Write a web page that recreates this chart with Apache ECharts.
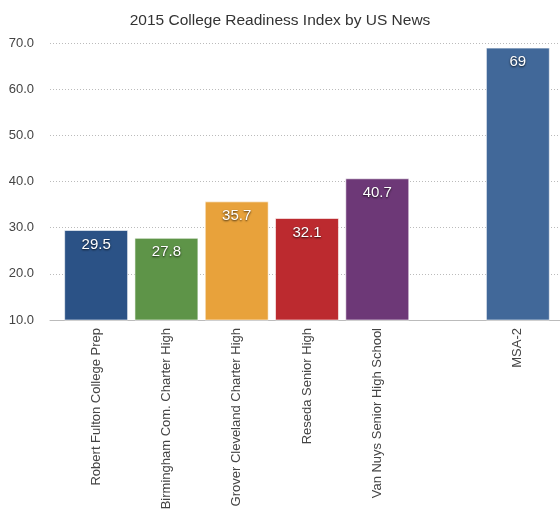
<!DOCTYPE html>
<html><head><meta charset="utf-8">
<script src="https://cdn.jsdelivr.net/npm/echarts@6/dist/echarts.min.js"></script>
<style>html,body{margin:0;padding:0;background:#fff}#c{width:560px;height:514px}</style>
</head><body><div id="c"></div>
<script>
var categories = ['Robert Fulton College Prep','Birmingham Com. Charter High','Grover Cleveland Charter High','Reseda Senior High','Van Nuys Senior High School','','MSA-2'];
var values = [29.5, 27.8, 35.7, 32.1, 40.7, null, 69];
var valueLabels = ['29.5','27.8','35.7','32.1','40.7','','69'];
var colors = ['#2b5286','#5e9448','#e8a23b','#bc2a2f','#6d3877','#fff','#416899'];
var yTicks = {min:10, max:70, interval:10};

var chart = echarts.init(document.getElementById('c'));
chart.setOption({
  animation:false,
  title:{text:'2015 College Readiness Index by US News',left:'center',top:8,
    textStyle:{fontFamily:'Liberation Sans',fontSize:15.5,fontWeight:'normal',color:'#333'}},
  grid:[{left:61,right:7,top:43,bottom:194},{left:50,right:0,top:43,bottom:194}],
  xAxis:[{type:'category',data:categories,gridIndex:0,
    axisLine:{show:false},axisTick:{show:false},
    axisLabel:{rotate:90,interval:0,fontFamily:'Liberation Sans',fontSize:13,color:'#444',margin:8}},
    {type:'category',data:[''],gridIndex:1,axisTick:{show:false},axisLabel:{show:false},
    axisLine:{lineStyle:{color:'#bbb'}}}],
  yAxis:[{type:'value',gridIndex:0,min:yTicks.min,max:yTicks.max,interval:yTicks.interval,
    axisLine:{show:false},axisTick:{show:false},
    axisLabel:{formatter:function(v){return v.toFixed(1);},fontFamily:'Liberation Sans',fontSize:13,color:'#444',margin:27},
    splitLine:{show:false}},
    {type:'value',gridIndex:1,min:yTicks.min,max:yTicks.max,interval:yTicks.interval,
    axisLine:{show:false},axisTick:{show:false},axisLabel:{show:false},
    splitLine:{lineStyle:{color:'#bbb',type:[1,2]}}}],
  series:[{type:'bar',xAxisIndex:0,yAxisIndex:0,barCategoryGap:'9%',z:3,
    data:values.map(function(v,i){return {value:v,itemStyle:{color:colors[i]}};}),
    itemStyle:{borderColor:'rgba(255,255,255,0.6)',borderWidth:1},
    label:{show:true,position:'insideTop',distance:7,
      formatter:function(p){return valueLabels[p.dataIndex];},
      color:'#fff',fontFamily:'Liberation Sans',fontSize:15,
      textShadowColor:'rgba(0,0,0,0.8)',textShadowBlur:2,textShadowOffsetX:0,textShadowOffsetY:1}
  }]
});
</script></body></html>
